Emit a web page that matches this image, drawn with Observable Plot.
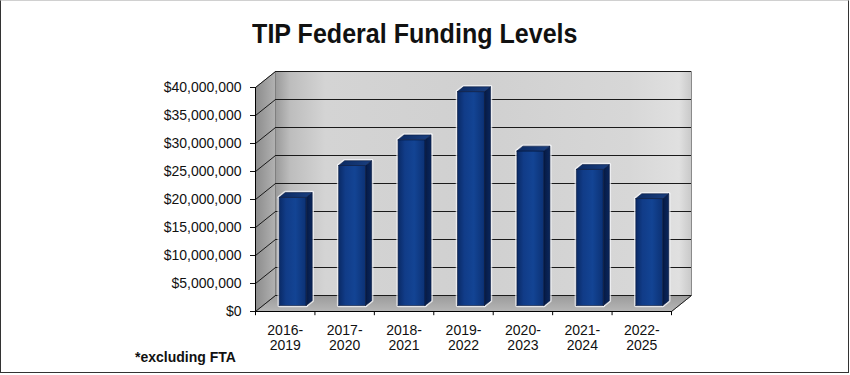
<!DOCTYPE html>
<html><head><meta charset="utf-8">
<script src="https://cdn.jsdelivr.net/npm/d3@7"></script>
<script src="https://cdn.jsdelivr.net/npm/@observablehq/plot@0.6"></script>
<style>
body{margin:0;background:#fff;}
#wrap{position:relative;width:850px;height:375px;overflow:hidden;font-family:"Liberation Sans",Arial,sans-serif;color:#111;}
#chart{position:absolute;left:0;top:0;}
#frame{position:absolute;left:0;top:0;width:847px;height:371px;border:1px solid #333;border-top-color:#d0d0d0;pointer-events:none;}
#title{position:absolute;left:0;width:830px;top:16px;text-align:center;font-weight:bold;font-size:28px;line-height:36px;white-space:nowrap;}
#title span{display:inline-block;transform:scaleX(0.895);}
#note{position:absolute;left:135px;top:349px;font-weight:bold;font-size:14px;line-height:16px;}
</style></head>
<body>
<div id="wrap">
  <div id="chart"></div>
  <div id="title"><span>TIP Federal Funding Levels</span></div>
  <div id="note">*excluding FTA</div>
  <div id="frame"></div>
</div>
<script>
const periods = ["2016-2019","2017-2020","2018-2021","2019-2022","2020-2023","2021-2024","2022-2025"];
const funding = [19.3e6, 25.0e6, 29.6e6, 38.2e6, 27.6e6, 24.3e6, 19.1e6];
const yTicks = [0, 5e6, 10e6, 15e6, 20e6, 25e6, 30e6, 35e6, 40e6];
const yMax = 40e6;

const width = 850, height = 375, mL = 255, mR = 179, mT = 87, mB = 64;
const n = periods.length;
// pseudo-3D depth offset (pixels) converted into data units
const DX = 20, DY = 16;
const KX = DX * n / (width - mL - mR);
const KY = DY * yMax / (height - mT - mB);
const P = (i, v, d) => ({x: i + d * KX, y: v + d * KY});
const poly = (key, pts) => pts.map(p => ({key, ...p}));

const backWall = poly("back", [P(0,0,1), P(n,0,1), P(n,yMax,1), P(0,yMax,1), P(0,0,1)]);
const sideWall = poly("side", [P(0,0,0), P(0,0,1), P(0,yMax,1), P(0,yMax,0), P(0,0,0)]);
const floorPl = poly("floor", [P(0,0,0), P(n,0,0), P(n,0,1), P(0,0,1), P(0,0,0)]);

const D0 = 0.375, D1 = 0.675, BW = 0.454;
const fronts = [], sides = [], tops = [];
funding.forEach((v, i) => {
  const xl = i + 0.5 - BW / 2, xr = i + 0.5 + BW / 2;
  fronts.push(...poly(i, [P(xl,0,D0), P(xr,0,D0), P(xr,v,D0), P(xl,v,D0), P(xl,0,D0)]));
  sides.push(...poly(i, [P(xr,0,D0), P(xr,0,D1), P(xr,v,D1), P(xr,v,D0), P(xr,0,D0)]));
  tops.push(...poly(i, [P(xl,v,D0), P(xr,v,D0), P(xr,v,D1), P(xl,v,D1), P(xl,v,D0)]));
});

const face = (data, fill, extra = {}) => Plot.line(data, {x: "x", y: "y", z: "key", fill, stroke: "#06173d", strokeWidth: 0.6, strokeLinejoin: "miter", ...extra});

const chart = Plot.plot({
  width, height,
  marginLeft: mL, marginRight: mR, marginTop: mT, marginBottom: mB,
  style: {fontFamily: "'Liberation Sans', Arial, sans-serif", fontSize: "14px", background: "transparent", color: "#111", overflow: "visible"},
  x: {domain: [0, n], axis: null},
  y: {domain: [0, yMax], ticks: yTicks, tickFormat: d => "$" + d3.format(",")(d), tickSize: 5, tickPadding: 9, label: null},
  marks: [
    Plot.line(backWall, {x: "x", y: "y", z: "key", fill: "url(#gBack)", stroke: "#8a8a8a", strokeWidth: 1}),
    Plot.line(sideWall, {x: "x", y: "y", z: "key", fill: "url(#gSide)", stroke: "#777", strokeWidth: 0.8}),
    Plot.line(floorPl, {x: "x", y: "y", z: "key", fill: "url(#gFloor)", stroke: "#888", strokeWidth: 0.8}),
    Plot.ruleY(yTicks, {y: d => d + KY, x1: KX, x2: n + KX, stroke: "#1a1a1a", strokeWidth: 1.1}),
    Plot.link(yTicks, {x1: 0, y1: d => d, x2: KX, y2: d => d + KY, stroke: "#1a1a1a", strokeWidth: 1}),
    Plot.link([0], {x1: n, y1: 0, x2: n + KX, y2: KY, stroke: "#222", strokeWidth: 1}),
    // light halo around the columns
    Plot.line(fronts, {x: "x", y: "y", z: "key", stroke: "#f4f6fa", strokeWidth: 3.5, strokeOpacity: 0.75}),
    Plot.line(tops, {x: "x", y: "y", z: "key", stroke: "#f4f6fa", strokeWidth: 3.5, strokeOpacity: 0.75}),
    Plot.line(sides, {x: "x", y: "y", z: "key", stroke: "#f4f6fa", strokeWidth: 3.5, strokeOpacity: 0.75}),
    face(fronts, "url(#gFront)"),
    face(sides, "url(#gSideBar)"),
    face(tops, "url(#gTop)"),
    Plot.ruleX([0], {y1: 0, y2: yMax, stroke: "#000", strokeWidth: 1}),
    Plot.ruleY([0], {x1: 0, x2: n, stroke: "#000", strokeWidth: 1}),
    Plot.ruleX(d3.range(n + 1), {y1: 0, y2: -0.75e6, stroke: "#000", strokeWidth: 1}),
    Plot.text(periods, {x: (d, i) => i + 0.5, y: 0, text: d => d.replace("-", "-\n"), lineAnchor: "top", dy: 13, lineHeight: 1.07, fontSize: 14, fill: "#111"})
  ]
});

const defs = d3.select(chart).insert("defs", ":first-child");
function grad(id, stops, x2 = "100%", y2 = "0%") {
  const g = defs.append("linearGradient").attr("id", id).attr("x1", "0%").attr("y1", "0%").attr("x2", x2).attr("y2", y2);
  stops.forEach(([o, c]) => g.append("stop").attr("offset", o).attr("stop-color", c));
}
grad("gBack", [[0, "#9a9a9a"], [0.035, "#bdbdbd"], [0.12, "#d4d4d4"], [0.5, "#d0d0d0"], [0.85, "#d7d7d7"], [0.97, "#e0e0e0"], [1, "#c8c8c8"]]);
grad("gSide", [[0, "#8c8c8c"], [1, "#b2b2b2"]]);
grad("gFloor", [[0, "#9b9b9b"], [1, "#b6b6b6"]], "0%", "100%");
grad("gFront", [[0, "#0a2a66"], [0.25, "#113c88"], [0.6, "#134494"], [1, "#0c3174"]]);
grad("gSideBar", [[0, "#061a44"], [1, "#0a265c"]]);
grad("gTop", [[0, "#0b2a62"], [1, "#1a3f80"]]);

document.getElementById("chart").appendChild(chart);
</script>
</body></html>
